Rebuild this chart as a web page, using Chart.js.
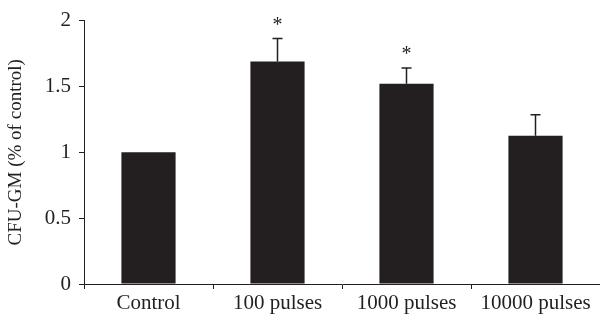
<!DOCTYPE html>
<html>
<head>
<meta charset="utf-8">
<script src="https://cdn.jsdelivr.net/npm/chart.js@4/dist/chart.umd.min.js"></script>
<style>
    html, body { margin: 0; padding: 0; background: #fff; }
    #wrap { width: 600px; height: 321px; }
</style>
</head>
<body>
<div id="wrap"><canvas id="chart" width="600" height="321"></canvas></div>
<script>
    // Chart data
    const categories = ['Control', '100 pulses', '1000 pulses', '10000 pulses'];
    const means = [1.0, 1.69, 1.52, 1.125];
    const errors = [0, 0.175, 0.12, 0.16];
    const significant = [false, true, true, false];
    const yTicks = [0, 0.5, 1, 1.5, 2];

    const INK = '#231f20';
    const FONT = '"Liberation Serif", "DejaVu Serif", serif';

    Chart.defaults.font.family = FONT;
    Chart.defaults.color = INK;

    // Draws the upward error bars and significance stars
    const errorBars = {
        id: 'errorBars',
        afterDatasetsDraw: function(chart) {
            const ctx = chart.ctx;
            const y = chart.scales.y;
            const meta = chart.getDatasetMeta(0);
            ctx.save();
            ctx.strokeStyle = INK;
            ctx.lineWidth = 1.5;
            meta.data.forEach(function(bar, i) {
                const top = means[i] + errors[i];
                const yTop = y.getPixelForValue(top);
                if (errors[i] > 0) {
                    ctx.beginPath();
                    ctx.moveTo(bar.x, y.getPixelForValue(means[i]));
                    ctx.lineTo(bar.x, yTop);
                    ctx.moveTo(bar.x - 5, yTop);
                    ctx.lineTo(bar.x + 5, yTop);
                    ctx.stroke();
                }
                if (significant[i]) {
                    ctx.fillStyle = INK;
                    ctx.font = '20px ' + FONT;
                    ctx.textAlign = 'center';
                    ctx.textBaseline = 'middle';
                    ctx.fillText('*', bar.x, yTop - 13);
                }
            });
            ctx.restore();
        }
    };

    new Chart(document.getElementById('chart'), {
        type: 'bar',
        data: {
            labels: categories,
            datasets: [{
                data: means,
                backgroundColor: INK,
                borderWidth: 0,
                categoryPercentage: 1,
                barPercentage: 0.42
            }]
        },
        options: {
            responsive: false,
            animation: false,
            layout: {
                padding: { top: 16, right: 0, left: 0, bottom: 0 }
            },
            plugins: {
                legend: { display: false },
                tooltip: { enabled: false }
            },
            scales: {
                x: {
                    grid: {
                        offset: true,
                        drawOnChartArea: false,
                        tickLength: 5,
                        color: INK
                    },
                    border: { color: INK, width: 1 },
                    ticks: {
                        font: { size: 21 },
                        color: INK,
                        padding: 2,
                        maxRotation: 0
                    },
                    afterFit: function(scale) { scale.height = 37; }
                },
                y: {
                    min: 0,
                    max: 2,
                    afterBuildTicks: function(scale) {
                        scale.ticks = yTicks.map(function(v) { return { value: v }; });
                    },
                    grid: {
                        drawOnChartArea: false,
                        tickLength: 5,
                        color: INK
                    },
                    border: { color: INK, width: 1 },
                    ticks: {
                        font: { size: 21 },
                        color: INK,
                        padding: 8,
                        callback: function(value) { return String(value); }
                    },
                    title: {
                        display: true,
                        text: 'CFU-GM (% of control)',
                        font: { size: 19 },
                        color: INK,
                        padding: { top: 5, bottom: 0 }
                    },
                    afterFit: function(scale) { scale.width = 84; }
                }
            }
        },
        plugins: [errorBars]
    });
</script>
</body>
</html>
